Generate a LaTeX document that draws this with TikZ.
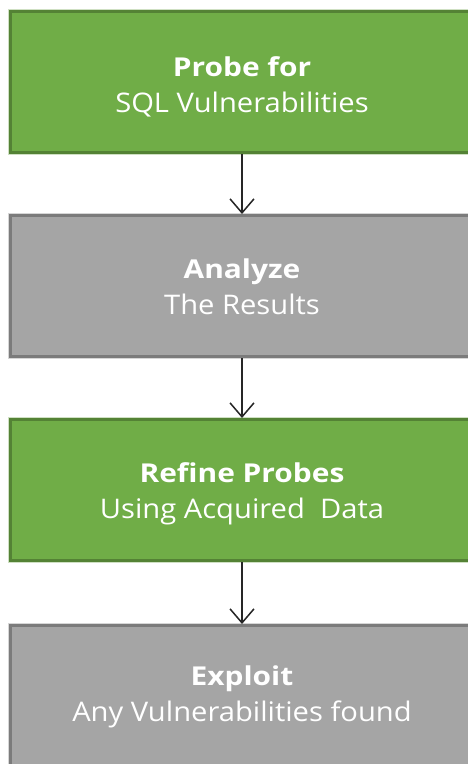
\documentclass[tikz,border=0pt]{standalone}
\usepackage{fontspec}
\setmainfont{Open Sans}
\newfontfamily\steptitlefont[FakeStretch=1.15]{Open Sans}
\newfontfamily\stepsubfont[FakeStretch=1.08]{Open Sans}
\usetikzlibrary{arrows.meta}

\definecolor{stepgreen}{HTML}{70AD47}
\definecolor{stepgreenedge}{HTML}{548235}
\definecolor{stepgreenhalo}{HTML}{CFE0C3}
\definecolor{stepgray}{HTML}{A5A5A5}
\definecolor{stepgrayedge}{HTML}{7B7B7B}
\definecolor{stepgrayhalo}{HTML}{D6D6D6}
\definecolor{flowline}{HTML}{262626}

% two-line step label: bold heading over a plain line
\newcommand{\steplabel}[2]{%
  {\steptitlefont\fontsize{26}{36}\selectfont\bfseries #1}\\
  {\stepsubfont\fontsize{27}{36}\selectfont #2}}

\tikzset{
  stepbox/.style={rectangle, minimum width=463pt, minimum height=141pt,
    line width=3pt, inner sep=0pt},
  greenbox/.style={stepbox, fill=stepgreen, draw=stepgreenedge,
    preaction={draw=stepgreenhalo, line width=5pt}},
  graybox/.style={stepbox, fill=stepgray, draw=stepgrayedge,
    preaction={draw=stepgrayhalo, line width=5pt}},
  steptext/.style={text=white, align=center, inner sep=0pt,
    font=\fontsize{27}{36}\selectfont},
  flow/.style={draw=flowline, line width=1.5pt,
    -{Straight Barb[length=14pt, width=24pt]}},
}

\begin{document}
\begin{tikzpicture}[x=1pt, y=-1pt]
  \useasboundingbox (0,0) rectangle (468,764);
  \begin{scope}
    \clip (0,0) rectangle (468,764);
    \node[greenbox] (probe)   at (242,82)  {};
    \node[graybox]  (analyze) at (242,286) {};
    \node[greenbox] (refine)  at (242,490) {};
    \node[graybox]  (exploit) at (242,696) {};
  \end{scope}
  \node[steptext] (probe text)   at (242,87)  {\steplabel{Probe for}{SQL Vulnerabilities}};
  \node[steptext] (analyze text) at (242,287) {\steplabel{Analyze}{The Results}};
  \node[steptext] (refine text)  at (242,494) {\steplabel{Refine Probes}{Using Acquired\ \ Data}};
  \node[steptext] (exploit text) at (242,697) {\steplabel{Exploit}{Any Vulnerabilities found}};
  \draw[flow] (probe.south)   -- (analyze.north);
  \draw[flow] (analyze.south) -- (refine.north);
  \draw[flow] (refine.south)  -- (exploit.north);
\end{tikzpicture}
\end{document}
